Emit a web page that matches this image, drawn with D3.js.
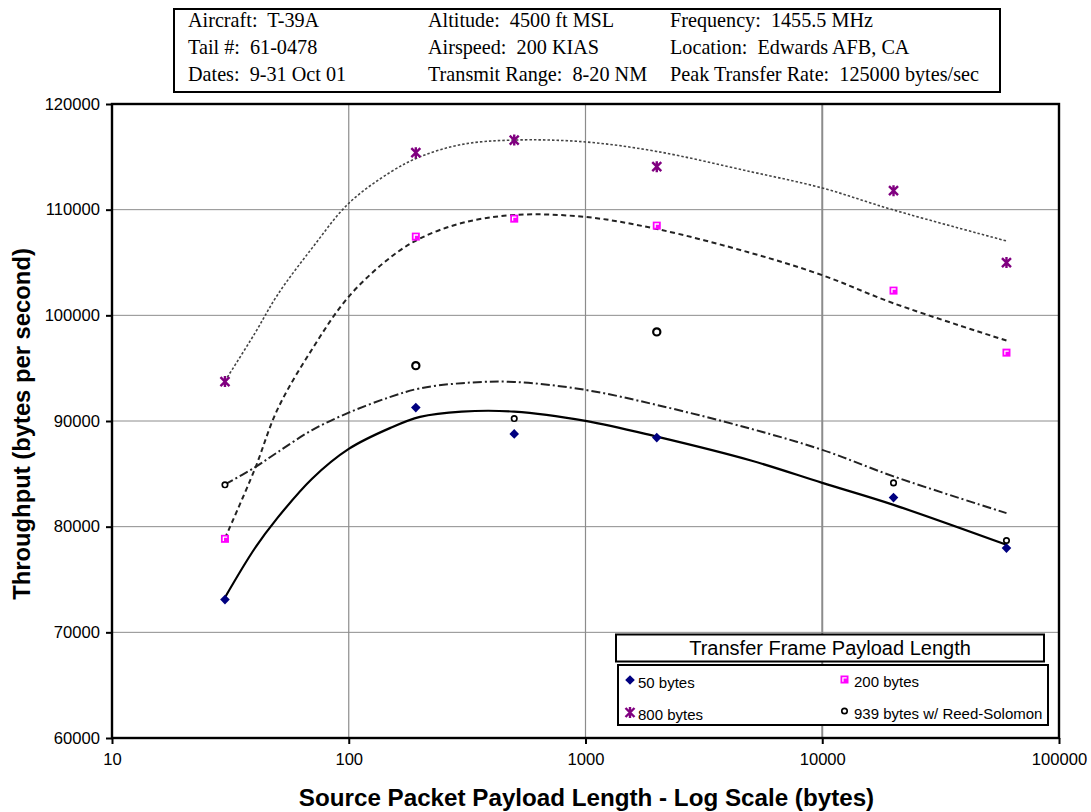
<!DOCTYPE html>
<html>
<head>
<meta charset="utf-8">
<script src="https://cdn.jsdelivr.net/npm/d3@7"></script>
<style>
  html, body { margin: 0; padding: 0; background: #fff; }
  svg { display: block; }
  text { white-space: pre; }
</style>
</head>
<body>
<svg id="chart" width="1091" height="812"></svg>
<script>
// ---------------- DATA ----------------
const xValues = [30, 192, 500, 2000, 20000, 60000];
const series50  = [73100, 91270, 88780, 88430, 82750, 77970];
const series200 = [78850, 107450, 109150, 108490, 102340, 96470];
const series800 = [93730, 115390, 116590, 114070, 111800, 104990];
const series939 = [83960, 95240, 90230, 98430, 84140, 78690];

// trend lines
const trendX    = [30, 40, 50, 70, 100, 150, 200, 300, 500, 1000, 2000, 5000, 10000, 20000, 60000];
const trend50   = [73300, 77910, 80830, 84540, 87360, 89350, 90390, 90890, 90890, 90010, 88520, 86260, 84140, 82060, 78280];
const trend200  = [78900, 85380, 91100, 96790, 101770, 105480, 107270, 108730, 109500, 109310, 108170, 105900, 103800, 101140, 97610];
const trend800  = [93790, 98250, 101930, 106360, 110600, 113550, 115000, 116170, 116590, 116410, 115510, 113590, 112050, 109970, 107040];
const trend939  = [84000, 85590, 87040, 89140, 90790, 92280, 93090, 93580, 93700, 92940, 91520, 89260, 87270, 84760, 81280];

const xTicks = [10, 100, 1000, 10000, 100000];
const yTicks = [60000, 70000, 80000, 90000, 100000, 110000, 120000];

const seriesNames = ["50 bytes", "200 bytes", "800 bytes", "939 bytes w/ Reed-Solomon"];
const legendTitle = "Transfer Frame Payload Length";
const xTitle = "Source Packet Payload Length - Log Scale (bytes)";
const yTitle = "Throughput (bytes per second)";
const headerRows = [
  ["Aircraft:  T-39A", "Altitude:  4500 ft MSL", "Frequency:  1455.5 MHz"],
  ["Tail #:  61-0478", "Airspeed:  200 KIAS", "Location:  Edwards AFB, CA"],
  ["Dates:  9-31 Oct 01", "Transmit Range:  8-20 NM", "Peak Transfer Rate:  125000 bytes/sec"]
];

// ---------------- LAYOUT ----------------
const svg = d3.select("#chart");
const L = 112, R = 1059, T = 104, B = 738;
const x = d3.scaleLog().domain([10, 100000]).range([L, R]);
const y = d3.scaleLinear().domain([60000, 120000]).range([B, T]);
const SANS = "Arial, 'Liberation Sans', sans-serif";
const SERIF = "'Times New Roman', 'Liberation Serif', serif";
const bigCircleIdx = new Set([1, 3]);

// gridlines
const g = svg.append("g");
g.selectAll("line.hg").data(yTicks.filter(v => v > 60000 && v < 120000)).join("line")
  .attr("x1", L).attr("x2", R).attr("y1", d => y(d)).attr("y2", d => y(d))
  .attr("stroke", "#8c8c8c").attr("stroke-width", 1);
g.selectAll("line.vg").data(xTicks.filter(v => v > 10 && v < 100000)).join("line")
  .attr("y1", T).attr("y2", B).attr("x1", d => x(d)).attr("x2", d => x(d))
  .attr("stroke", "#8c8c8c").attr("stroke-width", d => d === 10000 ? 2 : 1.2);

// axes
const yAxis = d3.axisLeft(y).tickValues(yTicks).tickSize(6).tickPadding(6).tickFormat(d3.format("d"));
const xAxis = d3.axisBottom(x).tickValues(xTicks).tickSize(6).tickPadding(9).tickFormat(d3.format("d"));
const ya = svg.append("g").attr("transform", `translate(${L},0)`).call(yAxis);
const xa = svg.append("g").attr("transform", `translate(0,${B})`).call(xAxis);
[ya, xa].forEach(a => {
  a.select(".domain").remove();
  a.selectAll(".tick line").attr("stroke", "#000").attr("stroke-width", 2);
  a.selectAll(".tick text").attr("font-family", SANS).attr("font-size", 16.6).attr("fill", "#000");
});

// plot border
svg.append("rect").attr("x", L).attr("y", T).attr("width", R - L).attr("height", B - T)
  .attr("fill", "none").attr("stroke", "#000").attr("stroke-width", 2.4);

// trend lines
const line = d3.line().x(d => x(d[0])).y(d => y(d[1])).curve(d3.curveCatmullRom.alpha(0.5));
const trends = [
  { ys: trend800, dash: "2.5,2", w: 1.6, c: "#444" },
  { ys: trend200, dash: "5,3.5", w: 2, c: "#222" },
  { ys: trend939, dash: "9,3,2,3", w: 2, c: "#222" },
  { ys: trend50,  dash: null, w: 2.2, c: "#000" }
];
trends.forEach(t => {
  svg.append("path").datum(trendX.map((xv, i) => [xv, t.ys[i]]))
    .attr("d", line).attr("fill", "none").attr("stroke", t.c)
    .attr("stroke-width", t.w).attr("stroke-dasharray", t.dash);
});

// marker drawing helpers
function diamond(sel) {
  sel.append("path").attr("d", "M0,-4.8L4.8,0L0,4.8L-4.8,0Z").attr("fill", "#000080");
}
function square(sel) {
  sel.append("rect").attr("x", -4).attr("y", -4).attr("width", 8).attr("height", 8).attr("fill", "#ff00ff");
  sel.append("path").attr("d", "M-1.6,2.2V-1.6H2.2").attr("fill", "none").attr("stroke", "#fff").attr("stroke-width", 1.3);
}
function star(sel) {
  sel.append("path").attr("d", "M-4.5,-4.5L4.5,4.5M-4.5,4.5L4.5,-4.5M0,-5.5V5.5")
    .attr("stroke", "#800080").attr("stroke-width", 2.4).attr("fill", "none");
}
function circ(sel, big) {
  sel.append("circle").attr("r", big ? 3.6 : 2.7).attr("fill", "#fff")
    .attr("stroke", "#000").attr("stroke-width", big ? 2.2 : 1.7);
}

const markerSets = [
  { ys: series50, draw: s => diamond(s) },
  { ys: series200, draw: s => square(s) },
  { ys: series800, draw: s => star(s) },
  { ys: series939, draw: (s, i) => circ(s, bigCircleIdx.has(i)) }
];
markerSets.forEach(ms => {
  ms.ys.forEach((v, i) => {
    const m = svg.append("g").attr("transform", `translate(${x(xValues[i])},${y(v)})`);
    ms.draw(m, i);
  });
});

// axis titles
svg.append("text").attr("x", (L + R) / 2 + 1).attr("y", 806).attr("text-anchor", "middle")
  .attr("font-family", SANS).attr("font-weight", "bold").attr("font-size", 24.2).text(xTitle);
svg.append("text").attr("transform", `translate(30,${(T + B) / 2 + 3}) rotate(-90)`).attr("text-anchor", "middle")
  .attr("font-family", SANS).attr("font-weight", "bold").attr("font-size", 23.8).text(yTitle);

// header box
svg.append("rect").attr("x", 174).attr("y", 9).attr("width", 826).attr("height", 83)
  .attr("fill", "#fff").attr("stroke", "#000").attr("stroke-width", 2);
const colX = [188, 428, 670];
const rowY = [27, 53.5, 80.5];
headerRows.forEach((row, r) => row.forEach((txt, c) => {
  svg.append("text").attr("x", colX[c]).attr("y", rowY[r])
    .attr("font-family", SERIF).attr("font-size", 20.2).attr("fill", "#000").text(txt);
}));

// legend
svg.append("rect").attr("x", 616).attr("y", 634.5).attr("width", 428).attr("height", 27)
  .attr("fill", "#fff").attr("stroke", "#000").attr("stroke-width", 2);
svg.append("text").attr("x", 830).attr("y", 655).attr("text-anchor", "middle")
  .attr("font-family", SANS).attr("font-size", 20).text(legendTitle);
svg.append("rect").attr("x", 618).attr("y", 665).attr("width", 430).attr("height", 60)
  .attr("fill", "#fff").attr("stroke", "#000").attr("stroke-width", 2);
const legPos = [[630, 680], [844.5, 679.5], [630, 712.5], [844.5, 711]];
const legDraw = [diamond, square, star, s => circ(s, false)];
seriesNames.forEach((name, i) => {
  const m = svg.append("g").attr("transform", `translate(${legPos[i][0]},${legPos[i][1]})`);
  legDraw[i](m);
  svg.append("text").attr("x", legPos[i][0] + (i % 2 === 0 ? 8 : 9.5)).attr("y", legPos[i][1] + 7.5)
    .attr("font-family", SANS).attr("font-size", 15).text(name);
});
</script>
</body>
</html>
